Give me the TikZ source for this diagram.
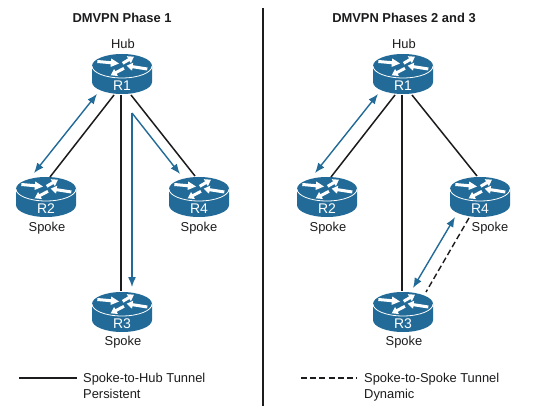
\documentclass[tikz,border=0pt]{standalone}
\usepackage{fontspec}
\setmainfont{Liberation Sans}
\usetikzlibrary{calc,arrows.meta}
\definecolor{rblue}{HTML}{226B98}
\definecolor{rink}{HTML}{1C1C1E}
\tikzset{
  x=1pt,y=-1pt,
  routerbox/.style={minimum width=60pt,minimum height=40pt,inner sep=0pt,outer sep=0pt},
  tunnel/.style={draw=rink,line width=1.5pt},
  dyn/.style={draw=rink,line width=1.4pt,dash pattern=on 6pt off 3.2pt},
  flow/.style={draw=rblue,line width=1.4pt,{Latex[length=10pt,width=8pt]}-{Latex[length=10pt,width=8pt]}},
  flowend/.style={draw=rblue,line width=1.4pt,-{Latex[length=10pt,width=8pt]}},
  lab/.style={font=\fontsize{12.9}{16}\selectfont,text=rink,inner sep=0pt},
  ttl/.style={font=\fontsize{12.9}{15}\selectfont\bfseries,text=rink,inner sep=0pt},
  rname/.style={font=\fontsize{14}{15}\selectfont,text=white,inner sep=0pt},
}
\newcommand{\router}[4]{%
  \begin{scope}[shift={(#2,#3)}]
    \fill[rblue] (-30,-8) -- (-30,8) arc[start angle=180,end angle=0,x radius=30,y radius=12] -- (30,-8) -- cycle;
    \fill[rblue] (0,-8) ellipse[x radius=30,y radius=12];
    \draw[white,line width=0.8pt] (-30,-8) arc[start angle=180,end angle=0,x radius=30,y radius=12];
    \fill[white] (-24.5,-14) -- (-11,-12.8) -- (-10.7,-15.5) -- (-3,-10.5) -- (-11.5,-7) -- (-11.3,-9.8) -- (-24.8,-11) -- cycle;
    \fill[white] (1.45,-9.4) -- (7.55,-13) -- (8.8,-10.8) -- (12,-17.3) -- (4.8,-17.8) -- (6.05,-15.6) -- (-.05,-12) -- cycle;
    \fill[white] (25.5,-6.5) -- (10.8,-8.8) -- (11.2,-11.3) -- (4.7,-8.3) -- (10,-3.3) -- (10.4,-5.8) -- (25.1,-3.5) -- cycle;
    \fill[white] (2.7,-4.4) -- (-5.3,-.2) -- (-4.1,2) -- (-11.3,1.3) -- (-7.9,-5) -- (-6.7,-2.8) -- (1.3,-7) -- cycle;
  \end{scope}
  \node[routerbox] (#1) at (#2,#3) {};
  \node[rname] (#1t) at ($(#1)+(0,11.5)$) {#4};
}
\begin{document}
\begin{tikzpicture}
\useasboundingbox (0,0) rectangle (538,406);
\fill[white] (0,0) rectangle (538,406);
% left panel
\router{Ra}{122}{74}{R1}
\router{Rb}{46}{197}{R2}
\router{Rc}{122}{312}{R3}
\router{Rd}{199}{197}{R4}
\node[ttl] (ta) at (122,17.5) {DMVPN Phase 1};
\node[lab] (ha) at (123,43.5) {Hub};
\node[lab] (sb) at (47,228) {Spoke};
\node[lab] (sc) at (123,342) {Spoke};
\node[lab] (sd) at (199,228) {Spoke};
\coordinate (a1) at (114,95);
\coordinate (a2) at (50,177);
\coordinate (a3) at (121,95);
\coordinate (a4) at (121,291);
\coordinate (a5) at (131,95);
\coordinate (a6) at (195,176);
\draw[tunnel] (a1) -- (a2);
\draw[tunnel] (a3) -- (a4);
\draw[tunnel] (a5) -- (a6);
\coordinate (b1) at (97,94);
\coordinate (b2) at (34,173);
\draw[flow] (b1) -- (b2);
\coordinate (b3) at (132,113);
\coordinate (b4) at (132,287);
\coordinate (b5) at (180,174);
\draw[flowend] (b3) -- (b4);
\draw[flowend] (b3) -- (b5);
% divider
\coordinate (d1) at (263,8);
\coordinate (d2) at (263,406);
\draw[rink,line width=1.7pt] (d1) -- (d2);
% right panel
\router{Re}{403}{74}{R1}
\router{Rf}{327}{197}{R2}
\router{Rg}{403}{312}{R3}
\router{Rh}{480}{197}{R4}
\node[ttl] (tb) at (404,17.5) {DMVPN Phases 2 and 3};
\node[lab] (hb) at (404,43.5) {Hub};
\node[lab] (sf) at (328,228) {Spoke};
\node[lab] (sg) at (404,342) {Spoke};
\node[lab] (sh) at (490,228) {Spoke};
\coordinate (e1) at (395,95);
\coordinate (e2) at (331,177);
\coordinate (e3) at (402,95);
\coordinate (e4) at (402,291);
\coordinate (e5) at (412,95);
\coordinate (e6) at (477,176);
\draw[tunnel] (e1) -- (e2);
\draw[tunnel] (e3) -- (e4);
\draw[tunnel] (e5) -- (e6);
\coordinate (f1) at (378,94);
\coordinate (f2) at (315,173);
\draw[flow] (f1) -- (f2);
\coordinate (g1) at (455,217);
\coordinate (g2) at (413,288);
\draw[flow] (g1) -- (g2);
\coordinate (h1) at (469,218);
\coordinate (h2) at (426,292);
\draw[dyn] (h1) -- (h2);
% legends
\coordinate (l1) at (19,378);
\coordinate (l2) at (77,378);
\draw[tunnel] (l1) -- (l2);
\node[lab,anchor=north west,align=left] (lt1) at (83,372.5) {Spoke-to-Hub Tunnel\\Persistent};
\coordinate (l3) at (301,378);
\coordinate (l4) at (357,378);
\draw[dyn] (l3) -- (l4);
\node[lab,anchor=north west,align=left] (lt2) at (364,372.5) {Spoke-to-Spoke Tunnel\\Dynamic};
\end{tikzpicture}
\end{document}
